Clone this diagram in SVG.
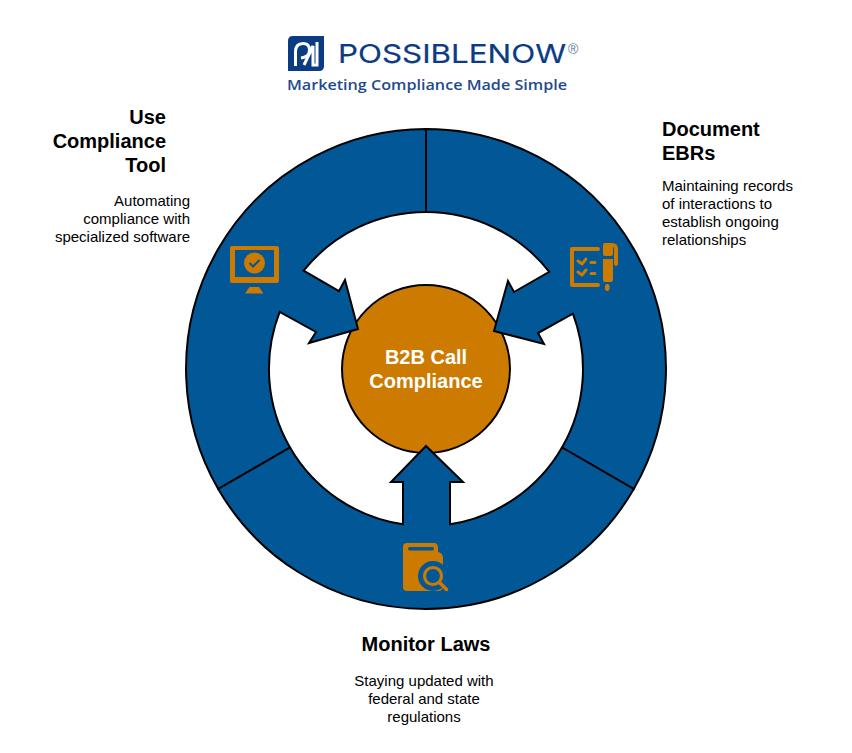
<svg xmlns="http://www.w3.org/2000/svg" width="852" height="753" viewBox="0 0 852 753">
<style>
.seg{fill:#025796;stroke:#000;stroke-width:2;stroke-linejoin:miter}
.ic{fill:#cc7a00}
.il{fill:none;stroke:#cc7a00;stroke-linecap:round;stroke-linejoin:round}
text{font-family:"Liberation Sans",Arial,sans-serif}
.t{font-size:20px;font-weight:700;fill:#000}
.d{font-size:15px;fill:#000}
.c{font-size:20px;font-weight:700;fill:#fff;text-anchor:middle}
.r{text-anchor:end}
.m{text-anchor:middle}
</style>
<rect width="852" height="753" fill="#fff"/>
<g id="logo">
<path d="M293 36H324V66Q324 71 319 71H288V41Q288 36 293 36Z" fill="#0b3c83"/>
<path d="M295.500 66V52Q295.500 43.500 303 43.500Q309.500 43.500 309.500 50Q309.500 57 301 58" fill="none" stroke="#fff" stroke-width="3"/>
<path d="M304 65L313 46V65H317V42" fill="none" stroke="#fff" stroke-width="3"/>
<text x="338" y="63" font-size="26" textLength="228" lengthAdjust="spacingAndGlyphs" fill="#0b3c83" stroke="#0b3c83" stroke-width="0.200" style="font-family:'Inter','Liberation Sans',sans-serif;font-weight:400">POSSIBLENOW</text>
<text x="568" y="54" font-size="14" fill="#5a7aa8">®</text>
<text x="287" y="90" font-size="15" textLength="280" lengthAdjust="spacingAndGlyphs" fill="#1f4a8c" style="font-family:'Open Sans','Noto Sans',sans-serif;font-weight:600">Marketing Compliance Made Simple</text>
</g>
<g id="center">
<circle cx="426" cy="369" r="84" fill="#cc7a00" stroke="#000" stroke-width="2"/>
<text class="c" x="426" y="364">B2B Call</text>
<text class="c" x="426" y="388">Compliance</text>
</g>
<g id="connectors">
<path class="seg" d="M218.200 489A240 240 0 0 1 426 129V212A157 157 0 0 0 303.600 270.700L339 291L345 280L358 329L309 343L316 332L279.700 311.900A157 157 0 0 0 290 447.500Z"/>
<path class="seg" d="M426 129A240 240 0 0 1 633.800 489L562 447.500A157 157 0 0 0 572.900 313.700L538 333L544 344L494 331L508 281L514 292L549.300 271.800A157 157 0 0 0 426 212Z"/>
<path class="seg" d="M633.800 489A240 240 0 0 1 218.200 489L290 447.500A157 157 0 0 0 403 524.300V482H391L426 446L463 482H450V524.300A157 157 0 0 0 562 447.500Z"/>
</g>
<g id="node-use-compliance-tool">
<text class="t r" x="166" y="124">Use</text>
<text class="t r" x="166" y="148">Compliance</text>
<text class="t r" x="166" y="172">Tool</text>
<text class="d r" x="190" y="206">Automating</text>
<text class="d r" x="190" y="224">compliance with</text>
<text class="d r" x="190" y="242">specialized software</text>
<path class="ic" fill-rule="evenodd" d="M232 246H277Q279 246 279 248V281Q279 283 277 283H232Q230 283 230 281V248Q230 246 232 246ZM235 250V277H274V250Z"/>
<circle cx="254.500" cy="263" r="10.500" class="ic"/>
<path d="M249.500 263L253 266.500L259.500 260" fill="none" stroke="#025796" stroke-width="2"/>
<path class="ic" d="M249.500 287H259L263.500 293.500H245Z"/>
</g>
<g id="node-document-ebrs">
<text class="t" x="662" y="136">Document</text>
<text class="t" x="662" y="160">EBRs</text>
<text class="d" x="662" y="191">Maintaining records</text>
<text class="d" x="662" y="209">of interactions to</text>
<text class="d" x="662" y="227">establish ongoing</text>
<text class="d" x="662" y="245">relationships</text>
<path class="il" stroke-width="4" d="M598 249H572V285H598"/>
<path class="il" stroke-width="3" d="M578 261L582 264L586 259M591 262.500H595M578 272L582 275L586 270M591 273.500H595"/>
<path class="ic" d="M605 243H612Q618 243 618 249V264Q618 266 616 266Q614 266 614 264V249Q614 247 613 247V254Q613 256 611 256H605Q603 256 603 254V245Q603 243 605 243ZM603 259H613V280Q613 282 611 282H605Q603 282 603 280Z"/>
<rect x="605" y="284" width="4.500" height="7" rx="2.200" class="ic"/>
</g>
<g id="node-monitor-laws">
<text class="t m" x="426" y="651">Monitor Laws</text>
<text class="d m" x="424" y="686">Staying updated with</text>
<text class="d m" x="424" y="704">federal and state</text>
<text class="d m" x="424" y="722">regulations</text>
<path class="ic" d="M407 543H434Q438 543 438 548V552Q443 553 443 558V586Q443 591 438 591H407Q403 591 403 587V547Q403 543 407 543Z"/>
<rect x="408" y="547" width="26" height="3.500" rx="1.700" fill="#025796"/>
<circle cx="433" cy="576" r="15" fill="#025796"/>
<rect x="443" y="582" width="8" height="10" fill="#025796"/>
<circle cx="433" cy="576" r="8.500" fill="none" stroke="#cc7a00" stroke-width="3.200"/>
<path d="M440 583L446.500 589.500" stroke="#cc7a00" stroke-width="3.500" stroke-linecap="round"/>
</g>
</svg>
